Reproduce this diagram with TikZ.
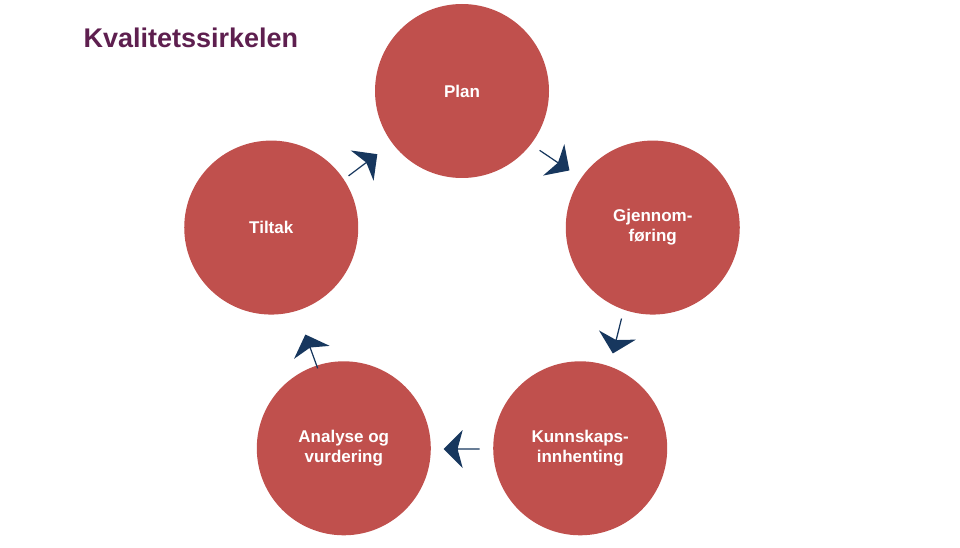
\documentclass[tikz,border=0pt]{standalone}
\usepackage{fontspec}
\setmainfont{Liberation Sans}
\usetikzlibrary{shapes.arrows,calc}
\definecolor{circred}{HTML}{C0504D}
\definecolor{arrownavy}{HTML}{17375E}
\definecolor{titlepurple}{HTML}{5E1F4F}
\tikzset{
  stepcircle/.style={circle, fill=circred, minimum size=174pt, text=white,
    font=\bfseries\fontsize{17pt}{20pt}\selectfont, align=center},
  cyclearrow/.style={single arrow, fill=arrownavy, minimum height=36pt,
    minimum width=38pt, single arrow head extend=6pt, inner sep=0pt,
    single arrow head indent=5pt, text width=14pt}
}
\begin{document}
\begin{tikzpicture}[x=1pt,y=1pt]
  \useasboundingbox (0,0) rectangle (960,-548);
  \coordinate (centre) at (462,-297);

  \node[anchor=west, text=titlepurple, font=\bfseries\fontsize{27pt}{30pt}\selectfont] (title) at (80,-38) {Kvalitetssirkelen};

  \node[stepcircle] (plan) at ($(centre)+(90:206)$) {Plan};
  \node[stepcircle] (gjen) at ($(centre)+(20:203)$) {Gjennom-\\føring};
  \node[stepcircle] (kunn) at ($(centre)+(-52:192)$) {Kunnskaps-\\innhenting};
  \node[stepcircle] (anal) at ($(centre)+(-128:192)$) {Analyse og\\vurdering};
  \node[stepcircle] (tilt) at ($(centre)+(160:203)$) {Tiltak};

  \foreach \a/\r in {56/165, -14/160, -90/152, -160/160, 127/165}
    \node[cyclearrow, rotate=\a-90] at ($(centre)+(\a:\r)$) {};
\end{tikzpicture}
\end{document}
